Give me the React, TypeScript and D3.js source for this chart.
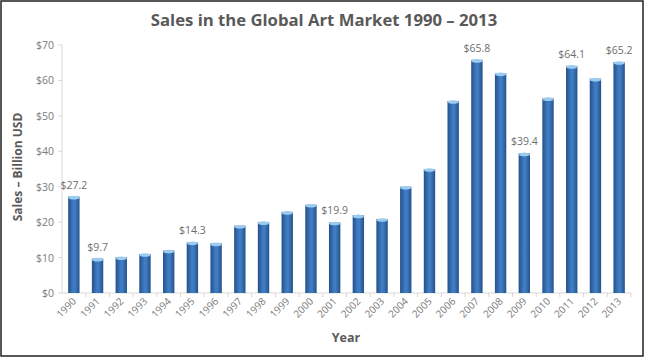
import React from 'react'
import * as d3 from 'd3'

const years = ['1990', '1991', '1992', '1993', '1994', '1995', '1996', '1997', '1998', '1999', '2000', '2001',
  '2002', '2003', '2004', '2005', '2006', '2007', '2008', '2009', '2010', '2011', '2012', '2013']
const sales = [27.2, 9.7, 10.1, 11.0, 12.0, 14.3, 14.0, 19.0, 20.0, 22.9, 24.9, 19.9,
  21.9, 20.9, 30.0, 35.0, 54.2, 65.8, 62.0, 39.4, 55.0, 64.1, 60.5, 65.2]
const labelled = ['1990', '1991', '1995', '2001', '2007', '2009', '2011', '2013']
const yTicks = [0, 10, 20, 30, 40, 50, 60, 70]

const W = 645
const H = 358
const font = '"Open Sans", "Noto Sans", sans-serif'

export default function App() {
  const x = d3.scaleBand().domain(years).range([62, 631]).paddingInner(0.52).paddingOuter(0.26)
  const y = d3.scaleLinear().domain([0, 70]).range([293, 45])
  const bw = x.bandwidth()
  const step = x.step()

  return (
    <svg width={W} height={H} style={{ position: 'absolute', left: 0, top: 0, background: '#fff' }}>
      <defs>
        <linearGradient id="bar" x1="0" x2="1" y1="0" y2="0">
          <stop offset="0" stopColor="#24518a" />
          <stop offset="0.45" stopColor="#3f7cc2" />
          <stop offset="0.6" stopColor="#3f7cc2" />
          <stop offset="1" stopColor="#24518a" />
        </linearGradient>
      </defs>
      <rect x={1} y={1} width={W - 3} height={H - 3} fill="#fff" stroke="#222" strokeWidth={1.5} />
      <text x={324} y={26} textAnchor="middle" fontFamily={font} fontWeight="bold" fontSize={16.7} fill="#595959">
        Sales in the Global Art Market 1990 – 2013
      </text>

      {/* y axis */}
      <line x1={62} x2={62} y1={y(70)} y2={y(0)} stroke="#d9d9d9" />
      {yTicks.map(t => (
        <g key={t}>
          <line x1={58} x2={62} y1={y(t)} y2={y(t)} stroke="#d9d9d9" />
          <text x={54} y={y(t) + 4} textAnchor="end" fontFamily={font} fontSize={10.5} fill="#7a7a7a">${t}</text>
        </g>
      ))}
      <text transform={`translate(22,${y(35) - 2}) rotate(-90)`} textAnchor="middle" fontFamily={font}
        fontWeight="bold" fontSize={12} fill="#595959">Sales – Billion USD</text>

      {/* x axis */}
      <line x1={62} x2={631} y1={y(0)} y2={y(0)} stroke="#d9d9d9" />
      {years.map((yr, i) => (
        <line key={'t' + yr} x1={62 + step * (i + 1)} x2={62 + step * (i + 1)} y1={y(0)} y2={y(0) + 4} stroke="#e6d2c4" />
      ))}
      {years.map(yr => {
        const cx = (x(yr) as number) + bw / 2
        return (
          <text key={'l' + yr} transform={`translate(${cx + 3},${y(0) + 9}) rotate(-45)`} textAnchor="end"
            fontFamily={font} fontSize={10} fill="#7a7a7a">{yr}</text>
        )
      })}
      <text x={346} y={342} textAnchor="middle" fontFamily={font} fontWeight="bold" fontSize={12.5} fill="#595959">Year</text>

      {/* bars */}
      {years.map((yr, i) => {
        const bx = x(yr) as number
        const top = y(sales[i])
        return (
          <g key={'b' + yr}>
            <rect x={bx} y={top} width={bw} height={y(0) - top} fill="url(#bar)" />
            <ellipse cx={bx + bw / 2} cy={top + 1} rx={bw / 2} ry={1.8} fill="#9ccbf0" />
            {labelled.includes(yr) && (
              <text x={bx + bw / 2} y={top - 8} textAnchor="middle" fontFamily={font} fontSize={10.5} fill="#6e6e6e">
                ${sales[i]}
              </text>
            )}
          </g>
        )
      })}
    </svg>
  )
}
